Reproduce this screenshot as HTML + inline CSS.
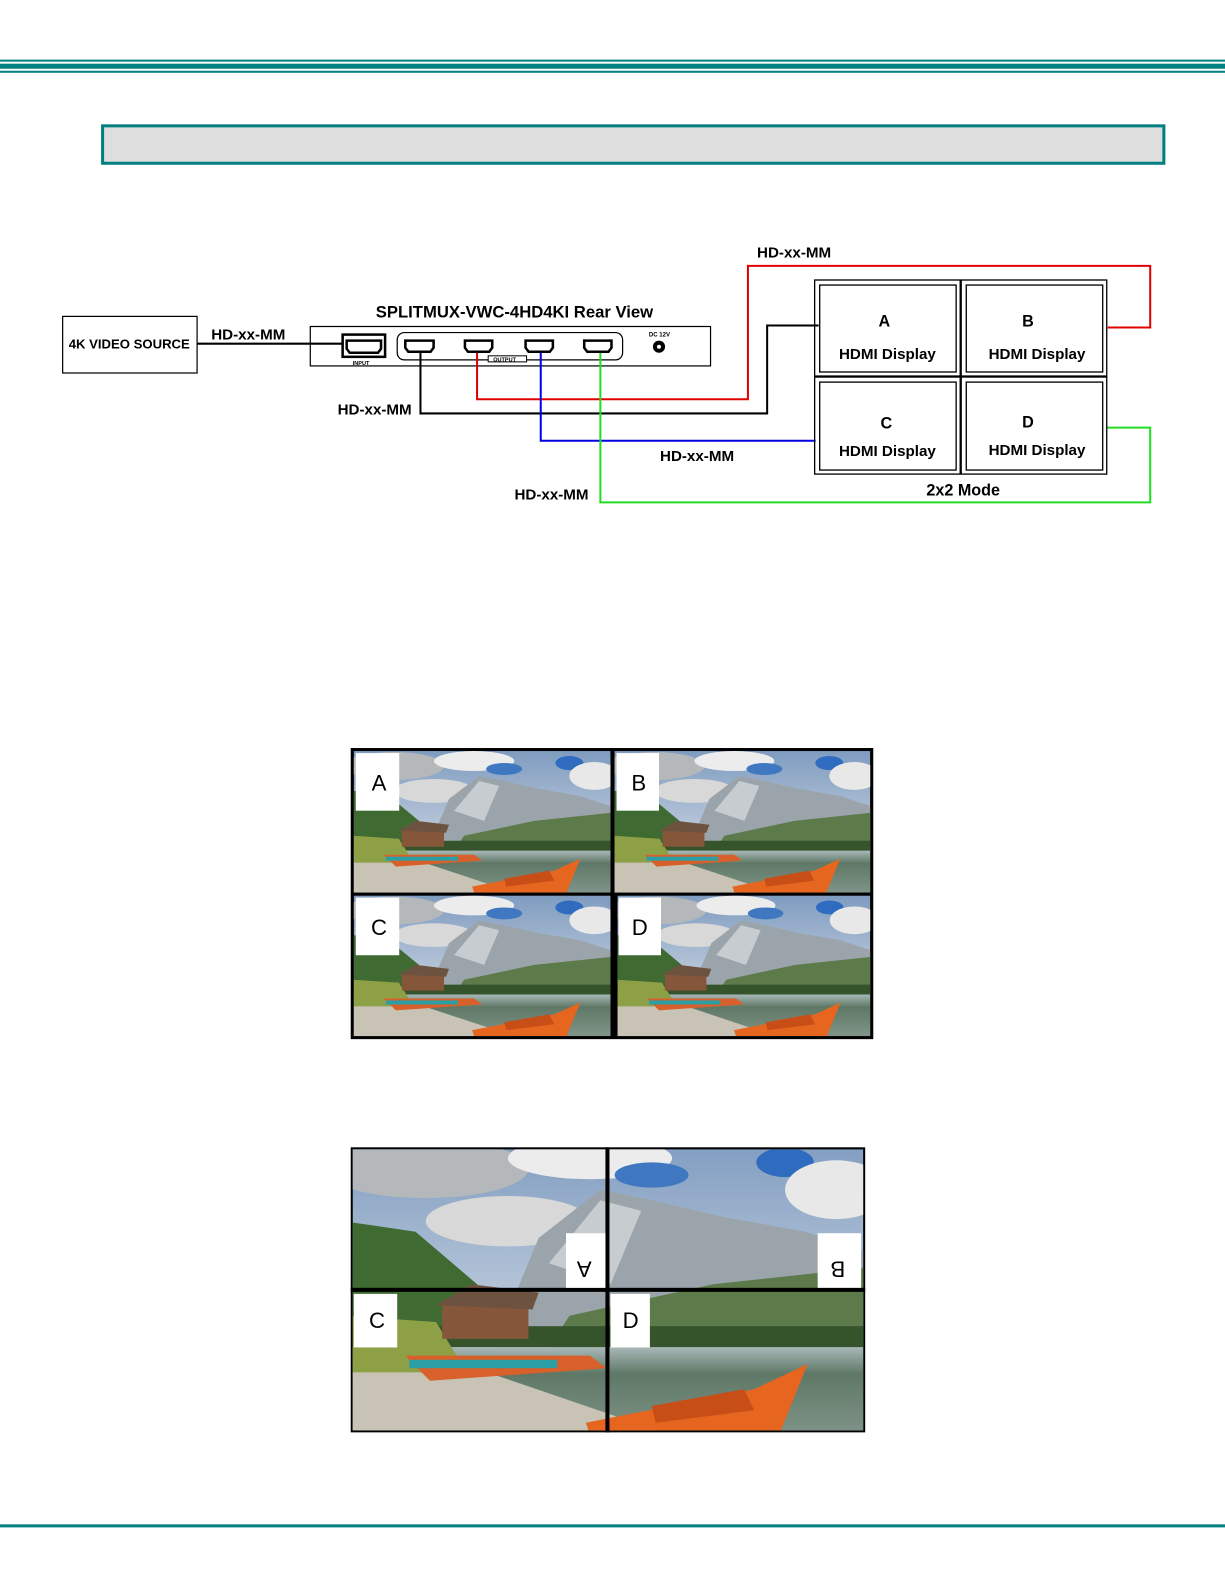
<!DOCTYPE html>
<html><head><meta charset="utf-8"><style>
html,body{margin:0;padding:0;background:#fff}
svg{display:block}
text{font-family:"Liberation Sans",Arial,sans-serif}
</style></head><body>
<svg width="1225" height="1585" viewBox="0 0 1212 1568" preserveAspectRatio="none" xmlns="http://www.w3.org/2000/svg">
<defs>
<linearGradient id="sky" x1="0" y1="0" x2="0" y2="1"><stop offset="0" stop-color="#7f9cc0"/><stop offset="1" stop-color="#e6eaee"/></linearGradient>
<linearGradient id="lake" x1="0" y1="0" x2="0" y2="1"><stop offset="0" stop-color="#a8b8b8"/><stop offset="0.3" stop-color="#5f7866"/><stop offset="1" stop-color="#7f9488"/></linearGradient>
<symbol id="photo" viewBox="0 0 256 142" preserveAspectRatio="none">
<rect width="256" height="142" fill="url(#sky)"/>
<ellipse cx="40" cy="15" rx="50" ry="14" fill="#b5b8ba"/>
<ellipse cx="120" cy="10" rx="40" ry="10" fill="#ececec"/>
<ellipse cx="150" cy="18" rx="18" ry="6" fill="#3f78c0"/>
<ellipse cx="215" cy="12" rx="14" ry="7" fill="#2f6cc0"/>
<ellipse cx="240" cy="25" rx="25" ry="14" fill="#e8e8e8"/>
<ellipse cx="80" cy="40" rx="40" ry="12" fill="#d8d8d8"/>
<polygon points="75,95 95,48 125,25 150,30 185,38 225,45 256,55 256,100 75,100" fill="#9ba4aa"/>
<polygon points="100,60 125,30 145,35 130,70" fill="#c7ccd0"/>
<polygon points="110,85 180,70 256,62 256,100 100,100" fill="#5d7a4b"/>
<polygon points="0,40 35,45 65,70 85,95 0,100" fill="#3f6a32"/>
<rect x="0" y="90" width="256" height="10" fill="#35542c"/>
<rect x="0" y="100" width="256" height="42" fill="url(#lake)"/>
<polygon points="0,85 45,88 60,112 0,114" fill="#8ea046"/>
<polygon points="0,112 70,112 160,142 0,142" fill="#c9c3b6"/>
<rect x="48" y="78" width="42" height="18" fill="#86563a"/>
<polygon points="45,80 62,70 95,74 92,82" fill="#6e5240"/>
<polygon points="30,104 120,104 128,110 42,116" fill="#d8602a"/>
<rect x="32" y="106" width="72" height="4" fill="#2aa0a6"/>
<polygon points="118,136 200,120 226,108 212,142 120,142" fill="#e6661f"/>
<polygon points="150,128 195,120 200,130 152,136" fill="#c84e18"/>
</symbol>
<clipPath id="g2"><rect x="349" y="1137" width="505" height="278"/></clipPath>
</defs>

<rect x="0" y="59" width="1212" height="2" fill="#008080"/>
<rect x="0" y="63" width="1212" height="5" fill="#008080"/>
<rect x="0" y="70" width="1212" height="2" fill="#008080"/>
<rect x="101.5" y="124.5" width="1050" height="37" fill="#dedede" stroke="#008080" stroke-width="3"/>

<g fill="none" stroke-width="2">
<rect x="62" y="313" width="133" height="56" stroke="#000" stroke-width="1.2"/>
<line x1="195" y1="340" x2="340" y2="340" stroke="#000"/>
<rect x="307" y="323" width="396" height="39" stroke="#000" stroke-width="1.2"/>
<rect x="339" y="331" width="42" height="22" stroke="#000" stroke-width="2.5"/>
<rect x="393" y="329" width="223" height="27" rx="7" stroke="#000" stroke-width="1.2"/>
<rect x="483" y="352" width="38" height="6" fill="#fff" stroke="#000" stroke-width="1"/>
<polyline points="416,347 416,409 759,409 759,322 810,322" stroke="#000"/>
<polyline points="472,347 472,395 740,395 740,263 1138,263 1138,324 1096,324" stroke="#e00000"/>
<polyline points="535,347 535,436 807,436" stroke="#0000e0"/>
<polyline points="594,347 594,497 1138,497 1138,423 1095,423" stroke="#22dd22"/>
</g>
<g fill="#fff" stroke="#000" stroke-width="2.5">
<path d="M343 337h34v8l-3 4h-28l-3-4z"/>
<path d="M401 337h28v7l-3 4h-22l-3-4z"/>
<path d="M460 337h27v7l-3 4h-21l-3-4z"/>
<path d="M520 337h27v7l-3 4h-21l-3-4z"/>
<path d="M578 337h27v7l-3 4h-21l-3-4z"/>
</g>
<circle cx="652" cy="343" r="6" fill="#000"/><circle cx="652" cy="343" r="2" fill="#fff"/>
<text x="642" y="333" font-size="6" font-weight="bold">DC 12V</text>
<text x="349" y="361" font-size="5.5" font-weight="bold">INPUT</text>
<text x="488" y="357.5" font-size="5.5" font-weight="bold">OUTPUT</text>

<g fill="none" stroke="#000" stroke-width="1.3">
<rect x="806" y="277" width="144" height="95"/><rect x="811" y="282" width="135" height="86"/>
<rect x="951" y="277" width="144" height="95"/><rect x="956" y="282" width="135" height="86"/>
<rect x="806" y="373" width="144" height="96"/><rect x="811" y="378" width="135" height="87"/>
<rect x="951" y="373" width="144" height="96"/><rect x="956" y="378" width="135" height="87"/>
</g>
<g font-weight="bold" font-size="15" text-anchor="middle">
<text x="875" y="323" font-size="16">A</text><text x="878" y="355">HDMI Display</text>
<text x="1017" y="323" font-size="16">B</text><text x="1026" y="355">HDMI Display</text>
<text x="877" y="424" font-size="16">C</text><text x="878" y="451">HDMI Display</text>
<text x="1017" y="423" font-size="16">D</text><text x="1026" y="450">HDMI Display</text>
<text x="953" y="490" font-size="16">2x2 Mode</text>
<text x="509" y="314" font-size="16.5">SPLITMUX-VWC-4HD4KI   Rear View</text>
</g>
<g font-weight="bold" font-size="15">
<text x="68" y="345" font-size="13">4K VIDEO SOURCE</text>
<text x="209" y="336">HD-xx-MM</text>
<text x="749" y="255">HD-xx-MM</text>
<text x="334" y="410">HD-xx-MM</text>
<text x="653" y="456">HD-xx-MM</text>
<text x="509" y="494">HD-xx-MM</text>
</g>

<rect x="347" y="740" width="517" height="288" fill="#000"/>
<use href="#photo" x="350" y="743" width="254" height="140"/>
<use href="#photo" x="608" y="743" width="253" height="140"/>
<use href="#photo" x="350" y="886" width="254" height="139"/>
<use href="#photo" x="611" y="886" width="250" height="139"/>
<g fill="#fff"><rect x="352" y="745" width="43" height="57"/><rect x="610" y="745" width="42" height="57"/><rect x="352" y="888" width="43" height="57"/><rect x="612" y="888" width="42" height="57"/></g>
<g font-size="22" text-anchor="middle"><text x="375" y="782">A</text><text x="632" y="782">B</text><text x="375" y="925">C</text><text x="633" y="925">D</text></g>

<rect x="347" y="1135" width="509" height="282" fill="#000"/>
<g clip-path="url(#g2)"><use href="#photo" x="340" y="1125" width="520" height="295"/></g>
<rect x="599" y="1135" width="4" height="282" fill="#000"/>
<rect x="347" y="1274" width="509" height="4" fill="#000"/>
<g fill="#fff"><rect x="560" y="1220" width="39" height="54"/><rect x="809" y="1220" width="43" height="54"/><rect x="350" y="1280" width="43" height="53"/><rect x="604" y="1280" width="39" height="53"/></g>
<g font-size="22" text-anchor="middle">
<text transform="translate(578,1240) rotate(180)" x="0" y="-8">A</text>
<text transform="translate(829,1240) rotate(180)" x="0" y="-8">B</text>
<text x="373" y="1314">C</text><text x="624" y="1314">D</text></g>

<rect x="0" y="1508" width="1212" height="3" fill="#008080"/>
</svg>
</body></html>
